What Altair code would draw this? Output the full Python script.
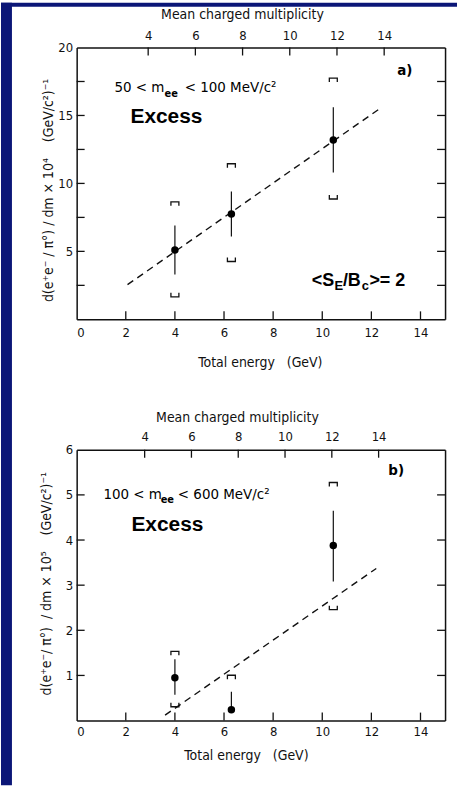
import altair as alt
import pandas as pd

BLUE = "#0b1677"
INK = "#111111"
FONT = "DejaVu Sans Condensed, DejaVu Sans, sans-serif"
BOLD = "Liberation Sans, Arial, sans-serif"

# ---------------- data: panel a (50 < m_ee < 100 MeV/c^2) ----------------
energy_a = [4.0, 6.3, 10.45]
excess_a = [5.1, 7.75, 13.2]
stat_lo_a = [3.3, 6.1, 10.8]
stat_hi_a = [6.9, 9.4, 15.6]
sys_lo_a = [1.8, 4.4, 9.0]
sys_hi_a = [8.5, 11.3, 17.6]
fit_energy_a = [2.07, 12.3]
fit_excess_a = [2.55, 15.45]

# ---------------- data: panel b (100 < m_ee < 600 MeV/c^2) ----------------
energy_b = [4.0, 6.3, 10.45]
excess_b = [0.95, 0.24, 3.88]
stat_lo_b = [0.57, 0.24, 3.08]
stat_hi_b = [1.36, 0.64, 4.65]
sys_lo_b = [0.35, None, 2.5]
sys_hi_b = [1.49, 0.96, 5.23]
fit_energy_b = [3.6, 12.2]
fit_excess_b = [0.12, 3.37]

# ---------------- axes ----------------
energy_labels = [0, 2, 4, 6, 8, 10, 12, 14]
energy_ticks = [2, 4, 6, 8, 10, 12, 14]
mult_ticks = [4, 6, 8, 10, 12, 14]
y_labels_a = [5, 10, 15, 20]
y_ticks_a = [2.5, 5, 7.5, 10, 12.5, 15, 17.5]
y_labels_b = [1, 2, 3, 4, 5, 6]
y_ticks_b = [1, 2, 3, 4, 5]

ytitle_a = "d(e\u207ae\u207b / \u03c0\u00b0) / dm \u00d7 10\u2074\u00a0\u00a0\u00a0\u00a0(GeV/c\u00b2)\u207b\u00b9"
ytitle_b = "d(e\u207ae\u207b/ \u03c0\u00b0)\u00a0\u00a0/ dm \u00d7 10\u2075\u00a0\u00a0\u00a0\u00a0(GeV/c\u00b2)\u207b\u00b9"

# annotations: (text, energy, value)
ann_a = {
    "norm": [("50 < m", 1.54, 16.70), ("<  100  MeV/c\u00b2", 4.40, 16.70)],
    "sub": [("ee", 3.58, 16.34)],
    "tag": [("a)", 13.05, 17.95)],
    "excess": [("Excess", 2.19, 14.43)],
    "ratio": [("<S", 9.57, 2.42), ("/B", 10.84, 2.42), (">= 2", 11.92, 2.42)],
    "ratio_sub": [("E", 10.50, 2.16), ("c", 11.61, 2.16)],
}
ann_b = {
    "norm": [("100  < m", 1.09, 4.92), ("<  600 MeV/c\u00b2", 4.12, 4.92)],
    "sub": [("ee", 3.42, 4.83)],
    "tag": [("b)", 12.69, 5.43)],
    "excess": [("Excess", 2.23, 4.21)],
    "ratio": [],
    "ratio_sub": [],
}

STYLES = {
    "norm": dict(font=FONT, fontSize=15, fontWeight="normal"),
    "sub": dict(font=FONT, fontSize=11, fontWeight="bold"),
    "tag": dict(font=FONT, fontSize=15, fontWeight="bold"),
    "excess": dict(font=BOLD, fontSize=21, fontWeight="bold"),
    "ratio": dict(font=BOLD, fontSize=18, fontWeight="bold"),
    "ratio_sub": dict(font=BOLD, fontSize=13, fontWeight="bold"),
}

UPPER = "M-1,0.5L-1,-0.5L1,-0.5L1,0.5"
LOWER = "M-1,-0.5L-1,0.5L1,0.5L1,-0.5"


def panel(E, Y, lo, hi, slo, shi, fE, fY, ylab, ytk, ydom, mdom, ytitle, ann,
          W, H, strips, lab_pad, title_pad, xtitle_x, top_lab_pad, top_title_pad,
          top_title_x, ytitle_pad, ytitle_y):
    xs = alt.Scale(domain=[0, 15], nice=False, zero=False)
    ys = alt.Scale(domain=ydom, nice=False, zero=False)
    xaxis = alt.Axis(values=energy_labels, format="d", title="Total energy\u00a0\u00a0\u00a0(GeV)",
                     labelPadding=lab_pad, titlePadding=title_pad, titleX=xtitle_x)
    yaxis = alt.Axis(values=ylab, format="d", title=ytitle, labelPadding=4,
                     titlePadding=ytitle_pad, titleY=ytitle_y)

    def X(f):
        return alt.X(f, scale=xs, axis=xaxis)

    def Yc(f):
        return alt.Y(f, scale=ys, axis=yaxis)

    pts = pd.DataFrame({"E": E, "Y": Y, "lo": lo, "hi": hi})
    up = pd.DataFrame({"E": E, "Y": shi}).dropna()
    dn = pd.DataFrame({"E": E, "Y": slo}).dropna()
    fit = pd.DataFrame({"E": fE, "Y": fY})

    layers = []
    # blue page border strips (outside the plot area)
    for (x1, x2, y1, y2) in strips:
        layers.append(
            alt.Chart(pd.DataFrame({"k": [0]})).mark_rect(color=BLUE).encode(
                x=alt.value(x1), x2=alt.value(x2), y=alt.value(y1), y2=alt.value(y2)
            )
        )
    layers.append(
        alt.Chart(fit).mark_line(color=INK, strokeWidth=1.4, strokeDash=[7, 5]).encode(
            x=X("E:Q"), y=Yc("Y:Q")
        )
    )
    layers.append(
        alt.Chart(pts).mark_rule(color=INK, strokeWidth=1.2).encode(
            x=X("E:Q"), y=Yc("lo:Q"), y2="hi:Q"
        )
    )
    layers.append(
        alt.Chart(up).mark_point(shape=UPPER, size=64, filled=False, color=INK,
                                 strokeWidth=1.3, opacity=1).encode(x=X("E:Q"), y=Yc("Y:Q"))
    )
    layers.append(
        alt.Chart(dn).mark_point(shape=LOWER, size=64, filled=False, color=INK,
                                 strokeWidth=1.3, opacity=1).encode(x=X("E:Q"), y=Yc("Y:Q"))
    )
    layers.append(
        alt.Chart(pts).mark_point(shape="circle", size=56, filled=True, color="black",
                                  opacity=1).encode(x=X("E:Q"), y=Yc("Y:Q"))
    )
    for key, items in ann.items():
        if not items:
            continue
        df = pd.DataFrame({"t": [i[0] for i in items], "x": [i[1] for i in items],
                           "y": [i[2] for i in items]})
        layers.append(
            alt.Chart(df).mark_text(align="left", baseline="alphabetic", color="black",
                                    **STYLES[key]).encode(x=X("x:Q"), y=Yc("y:Q"), text="t:N")
        )
    # inward ticks: left and bottom
    layers.append(
        alt.Chart(pd.DataFrame({"Y": ytk})).mark_rule(color=INK, strokeWidth=1.3).encode(
            y=Yc("Y:Q"), x=alt.value(0), x2=alt.value(8)
        )
    )
    layers.append(
        alt.Chart(pd.DataFrame({"E": energy_ticks})).mark_rule(color=INK, strokeWidth=1.3).encode(
            x=X("E:Q"), y=alt.value(H), y2=alt.value(H - 8)
        )
    )
    inner = alt.layer(*layers)

    top = alt.Chart(pd.DataFrame({"m": mult_ticks})).mark_rule(color=INK, strokeWidth=1.3).encode(
        x=alt.X("m:Q", scale=alt.Scale(domain=mdom, nice=False, zero=False),
                axis=alt.Axis(orient="top", values=mult_ticks, format="d",
                              title="Mean charged multiplicity", titleX=top_title_x,
                              labelPadding=top_lab_pad, titlePadding=top_title_pad)),
        y=alt.value(0), y2=alt.value(8),
    )
    right = alt.Chart(pd.DataFrame({"v": ytk})).mark_rule(color=INK, strokeWidth=1.3).encode(
        y=alt.Y("v:Q", scale=alt.Scale(domain=ydom, nice=False, zero=False),
                axis=alt.Axis(orient="right", labels=False, title=None)),
        x=alt.value(W), x2=alt.value(W - 8),
    )
    return alt.layer(inner, top, right).resolve_scale(x="independent", y="independent").properties(
        width=W, height=H
    )


pa = panel(energy_a, excess_a, stat_lo_a, stat_hi_a, sys_lo_a, sys_hi_a, fit_energy_a,
           fit_excess_a, y_labels_a, y_ticks_a, [0, 20], [0.97, 16.58], ytitle_a, ann_a,
           370, 273, [(-76, -65, -45, 741), (-76, 382, -45, -41)],
           7, 16, 184, 5, 8, 166, 2, 143)
pb = panel(energy_b, excess_b, stat_lo_b, stat_hi_b, sys_lo_b, sys_hi_b, fit_energy_b,
           fit_excess_b, y_labels_b, y_ticks_b, [0, 6], [1.094, 16.84], ytitle_b, ann_b,
           370, 272, [], 5, 10, 170, 6, 6, 161, 12, 134)

chart = alt.vconcat(pa, pb, spacing=131, bounds="flush").properties(
    padding=0,
    background="white",
).configure_view(stroke="transparent").configure_axis(
    labelFont=FONT, labelFontSize=13, labelColor=INK,
    titleFont=FONT, titleFontSize=14, titleFontWeight="normal", titleColor=INK,
    domainColor=INK, domainWidth=1.5, ticks=False, tickSize=0, grid=False,
)

chart.save("out.html", embed_options={"renderer": "svg", "actions": False})
